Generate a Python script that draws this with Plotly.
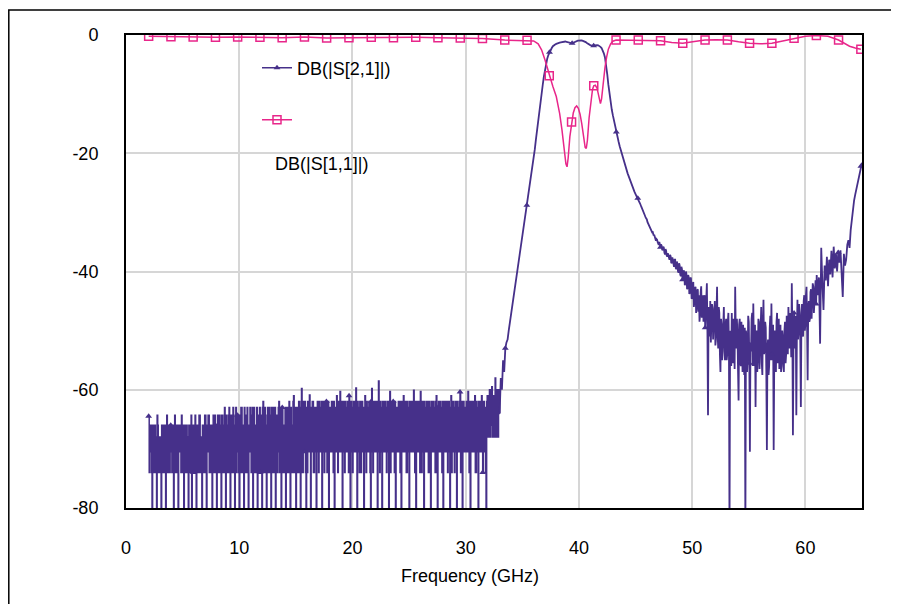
import numpy as np
import plotly.graph_objects as go

# ---------------- data ----------------
# S21 noise floor, 2.0 - 32.9 GHz at 0.1 GHz (-85 = below the axis) ...
s21_floor_db = [
    -64.5, -70.5, -66, -85, -66, -74, -68, -85, -66, -74,
    -68, -85, -66, -74, -66, -85, -64.3, -74, -66, -70.5,
    -66, -74, -85, -64.3, -74, -66, -85, -70.5, -66, -64.3,
    -74, -85, -66, -74, -68, -85, -66, -74, -85, -66,
    -74, -64.3, -85, -66, -74, -64.3, -68, -85, -66, -74,
    -64.3, -85, -70.5, -64.3, -74, -66, -85, -64.3, -74, -66,
    -85, -64.3, -74, -66, -85, -64.3, -74, -63, -85, -66,
    -74, -63, -85, -64.3, -74, -66, -85, -63, -70.5, -64.3,
    -85, -74, -63, -66, -85, -64.3, -74, -63, -85, -70.5,
    -64.3, -74, -85, -63, -66, -74, -85, -64.3, -63, -74,
    -85, -62, -74, -66, -85, -63, -74, -64.3, -85, -66,
    -63, -74, -85, -64.3, -70.5, -62, -74, -85, -63, -66,
    -74, -85, -63, -74, -62, -85, -66, -74, -61, -70.5,
    -85, -63, -74, -62, -85, -59.8, -74, -63, -62, -85,
    -74, -63, -60.9, -85, -70.5, -62, -74, -63, -85, -62,
    -74, -63, -70.5, -85, -62, -74, -63, -62, -74, -85,
    -63, -70.5, -62, -74, -85, -63, -61, -74, -63, -60.3,
    -70.5, -85, -62, -74, -63, -70.5, -62, -61, -85, -63,
    -74, -62, -70.5, -59.7, -85, -63, -74, -62, -70.5, -63,
    -85, -61, -74, -63, -70.5, -62, -85, -59.8, -74, -63,
    -62, -70.5, -85, -58.5, -74, -63, -85, -62, -70.5, -63,
    -74, -62, -85, -60.3, -70.5, -63, -62, -74, -85, -63,
    -70.5, -62, -74, -85, -63, -61, -70.5, -62, -74, -63,
    -85, -62, -70.5, -63, -60.1, -74, -85, -62, -70.5, -63,
    -60.3, -74, -62, -85, -63, -70.5, -62, -74, -63, -85,
    -62, -70.5, -63, -74, -61, -85, -62, -70.5, -63, -74,
    -85, -63, -62, -70.5, -74, -62, -85, -61, -70.5, -63,
    -74, -62, -85, -63, -70.5, -60.4, -74, -85, -62, -63,
    -70.5, -62, -60.3, -74, -85, -63, -62, -70.5, -61, -74,
    -63, -85, -62, -70.5, -61, -74, -62, -63, -85, -61,
    -68, -60, -66, -59.5, -68, -62, -58, -68, -60, -64,
]
# ... and the in-between samples at 2.05 - 32.95 GHz
s21_floor_mid_db = [
    -74, -66, -74, -66, -74, -66, -74, -64.3, -74, -68,
    -74, -66, -74, -66, -74, -66, -74, -66, -74, -66,
    -74, -66, -68, -74, -66, -74, -66, -66, -74, -74,
    -66, -68, -74, -66, -74, -66, -74, -64.3, -66, -74,
    -66, -74, -66, -74, -64.3, -74, -74, -66, -74, -64.3,
    -74, -66, -64.3, -74, -66, -74, -66, -74, -64.3, -74,
    -66, -74, -64.3, -74, -64.3, -74, -66, -74, -64.3, -74,
    -64.3, -74, -64.3, -74, -63, -74, -64.3, -74, -64.3, -74,
    -64.3, -63, -74, -74, -63, -74, -64.3, -74, -66, -63,
    -74, -63, -64.3, -74, -74, -63, -66, -74, -74, -64.3,
    -63, -74, -63, -74, -64.3, -74, -63, -74, -63, -74,
    -74, -63, -64.3, -74, -63, -74, -63, -64.3, -74, -74,
    -63, -64.3, -74, -63, -74, -63, -74, -62, -74, -63,
    -63, -74, -62, -74, -63, -74, -62, -70.5, -74, -63,
    -62, -70.5, -70.5, -63, -62, -74, -63, -70.5, -63, -70.5,
    -62, -70.5, -62, -63, -70.5, -62, -70.5, -74, -62, -63,
    -70.5, -62, -70.5, -62, -63, -70.5, -70.5, -62, -70.5, -70.5,
    -62, -63, -70.5, -62, -70.5, -62, -74, -70.5, -62, -70.5,
    -62, -70.5, -62, -70.5, -62, -70.5, -62, -74, -62, -70.5,
    -63, -70.5, -62, -70.5, -62, -74, -62, -70.5, -62, -70.5,
    -70.5, -62, -63, -70.5, -62, -70.5, -62, -70.5, -62, -70.5,
    -62, -70.5, -62, -74, -62, -70.5, -70.5, -62, -63, -70.5,
    -62, -70.5, -62, -62, -70.5, -70.5, -62, -74, -62, -70.5,
    -62, -70.5, -62, -70.5, -70.5, -62, -63, -70.5, -62, -74,
    -70.5, -62, -70.5, -62, -70.5, -62, -70.5, -62, -74, -62,
    -70.5, -62, -70.5, -62, -74, -63, -70.5, -62, -70.5, -62,
    -62, -70.5, -70.5, -62, -62, -70.5, -63, -74, -62, -70.5,
    -62, -70.5, -62, -70.5, -62, -74, -62, -63, -70.5, -70.5,
    -62, -70.5, -70.5, -62, -62, -70.5, -70.5, -62, -74, -62,
    -70.5, -62, -70.5, -62, -70.5, -62, -70.5, -74, -62, -68,
    -61, -68, -60, -68, -61, -68, -66, -60, -68, -60,
]

s21_passband_db = [  # 33.0 - 45.9 GHz, 0.1 GHz
    -64, -58, -60, -55, -57, -53, -52, -51.5, -50, -48.7,
    -47.5, -46, -44.5, -43.2, -41.5, -40.2, -39, -38, -37, -35.5,
    -34, -32.5, -31.4, -30, -28.8, -27.8, -26.5, -25.3, -24, -22.5,
    -21, -19.4, -17.7, -16, -14.5, -13, -11.5, -10, -8.5, -7.1,
    -5.9, -4.9, -4.0, -3.4, -2.9, -2.5, -2.2, -1.9, -1.7, -1.6,
    -1.5, -1.4, -1.35, -1.3, -1.25, -1.2, -1.15, -1.1, -1.1, -1.15,
    -1.2, -1.3, -1.4, -1.45, -1.4, -1.3, -1.2, -1.1, -1.0, -0.95,
    -0.95, -0.9, -0.9, -0.95, -1.0, -1.1, -1.2, -1.35, -1.5, -1.6,
    -1.7, -1.75, -1.8, -1.8, -1.75, -1.7, -1.7, -1.75, -1.85, -2.0,
    -2.2, -2.6, -3.1, -3.8, -5.0, -6.6, -8.4, -10.0, -11.4, -12.6,
    -13.6, -14.6, -15.5, -16.4, -17.2, -18.0, -18.8, -19.5, -20.3, -21.0,
    -21.6, -22.2, -22.8, -23.4, -23.9, -24.5, -25.0, -25.5, -26.1, -26.5,
    -26.9, -27.3, -27.6, -27.9, -28.5, -29.0, -29.6, -30.0, -30.4, -30.9,
]

s21_stopband_db = [  # 46.0 - 60.9 GHz, 0.1 GHz
    -31.2, -31.8, -32.1, -32.7, -33.0, -33.2, -33.9, -34.1, -34.8, -34.6,
    -35.2, -35.0, -35.9, -35.6, -36.4, -36.0, -37.1, -36.5, -37.5, -37.2,
    -38.0, -37.4, -38.6, -38.1, -39.2, -38.0, -39.6, -38.7, -40.2, -39.0,
    -40.8, -39.6, -41.5, -40.1, -42.0, -40.5, -42.8, -41.0, -43.6, -41.2,
    -44.5, -41.8, -45.2, -42.6, -46.0, -43.0, -44.0, -47.2, -42.5, -46.5,
    -48.5, -44.0, -46.8, -42.0, -64.3, -47.5, -45.0, -50.0, -46.2, -49.0,
    -45.0, -51.5, -42.6, -53.0, -47.0, -57.0, -49.0, -52.5, -46.0, -55.0,
    -48.0, -54.0, -47.0, -85, -51.0, -47.0, -55.5, -49.5, -42.6, -53.0,
    -50.5, -61.8, -48.0, -56.0, -52.0, -49.0, -57.5, -85, -51.0, -54.5,
    -48.5, -70.5, -53.5, -47.0, -45.4, -56.0, -62.9, -50.0, -54.5, -48.5,
    -52.0, -46.0, -57.5, -44.8, -53.0, -49.5, -70.2, -51.5, -56.0, -47.5,
    -45.4, -55.0, -70.2, -50.0, -57.0, -47.0, -53.5, -56.5, -49.0, -55.0,
    -51.0, -57.0, -48.5, -54.0, -50.0, -46.0, -53.0, -49.0, -42.0, -67.7,
    -47.0, -53.0, -64.3, -44.8, -50.0, -47.0, -62.9, -45.5, -51.0, -44.0,
    -49.0, -42.6, -58.4, -45.0, -48.0, -43.0, -46.0, -42.6, -44.5, -41.5,
]
s21_stopband_mid_db = [  # 46.05 - 60.95 GHz
    -31.6, -31.9, -32.5, -32.8, -33.3, -33.6, -33.8, -34.5, -34.5, -35.0,
    -35.5, -35.7, -35.4, -36.3, -35.8, -36.8, -36.2, -37.3, -36.9, -37.8,
    -37.2, -38.5, -37.6, -39.0, -38.0, -39.4, -38.3, -40.0, -38.6, -40.5,
    -39.2, -41.4, -39.8, -42.3, -40.0, -43.0, -40.6, -43.8, -41.0, -44.6,
    -42.0, -46.0, -42.8, -47.0, -43.2, -46.8, -48.5, -43.5, -47.8, -44.0,
    -45.0, -49.5, -44.0, -50.5, -46.0, -51.0, -52.0, -45.5, -51.5, -47.0,
    -52.5, -47.0, -50.5, -46.0, -54.0, -48.0, -55.0, -47.5, -53.5, -49.0,
    -55.0, -48.5, -53.0, -50.0, -56.0, -53.5, -48.0, -56.5, -50.0, -48.0,
    -56.5, -49.0, -55.0, -48.5, -57.0, -55.5, -49.5, -50.0, -57.0, -47.5,
    -55.5, -52.0, -48.0, -56.0, -52.5, -49.0, -51.0, -57.0, -48.0, -56.5,
    -48.0, -55.5, -49.0, -54.0, -48.5, -57.0, -53.0, -57.5, -49.5, -55.0,
    -54.0, -49.0, -55.0, -56.0, -48.5, -55.5, -48.0, -50.5, -57.0, -50.0,
    -56.0, -50.0, -55.5, -47.5, -54.0, -52.5, -47.0, -54.5, -50.0, -52.0,
    -52.5, -47.5, -50.0, -51.5, -45.5, -52.0, -48.0, -50.5, -45.0, -50.0,
    -44.0, -49.5, -46.0, -48.5, -43.5, -48.0, -42.0, -47.0, -42.0, -45.5,
]

s21_upper_db = [  # 61.0 - 65.0 GHz, 0.1 GHz
    -40.6, -44.0, -41.0, -52.2, -36.0, -42.0, -46.5, -39.0, -41.5, -37.5,
    -42.5, -38.0, -40.5, -36.5, -41.0, -35.8, -39.5, -37.0, -40.0, -36.8,
    -38.5, -36.4, -40.0, -44.3, -37.0, -39.0, -38.0, -35.5, -34.7, -36.0,
    -33.0, -31.0, -29.5, -28.0, -27.0, -26.0, -25.0, -24.0, -23.0, -22.2,
    -21.6,
]

# S11 (smooth trace)
s11_freq_ghz = [
    2.00, 3.97, 5.93, 7.90, 9.86, 11.83, 13.79, 15.76, 17.72, 19.69,
    21.66, 23.62, 25.59, 27.55, 29.52, 31.48, 33.45, 34.5, 35.42, 36.0,
    36.4, 36.7, 37.0, 37.2, 37.38, 37.7, 38.0, 38.3, 38.5, 38.7,
    38.85, 38.95, 39.05, 39.2, 39.35, 39.5, 39.65, 39.8, 39.95, 40.1,
    40.25, 40.4, 40.55, 40.65, 40.75, 40.9, 41.05, 41.2, 41.31, 41.45,
    41.6, 41.75, 41.9, 42.0, 42.15, 42.3, 42.45, 42.6, 42.8, 43.0,
    43.28, 44.2, 45.24, 46.2, 47.21, 48.2, 49.17, 50.2, 51.14, 52.1,
    53.11, 54.1, 55.07, 56.0, 57.04, 58.0, 59.00, 60.0, 60.97, 62.0,
    62.93, 63.4, 63.9, 64.4, 64.90,
]
s11_db = [
    -0.2, -0.3, -0.35, -0.4, -0.35, -0.4, -0.45, -0.35, -0.5, -0.45,
    -0.4, -0.45, -0.4, -0.45, -0.5, -0.6, -0.85, -0.9, -0.9, -1.0,
    -1.5, -2.5, -4.2, -5.5, -6.9, -8.7, -10.4, -13.3, -16.0, -19.6,
    -21.8, -22.3, -20.8, -17.2, -14.7, -13.2, -12.3, -12.0, -12.4, -13.4,
    -15.0, -17.2, -19.0, -19.2, -17.8, -14.0, -11.0, -9.2, -8.6, -8.5,
    -9.0, -10.3, -11.6, -10.8, -8.0, -5.5, -3.7, -2.4, -1.5, -1.05,
    -0.85, -0.85, -0.85, -0.9, -0.96, -1.25, -1.4, -1.1, -0.85, -0.8,
    -0.85, -1.15, -1.4, -1.5, -1.4, -1.0, -0.56, -0.2, -0.1, -0.2,
    -0.85, -1.4, -1.9, -2.2, -2.4,
]

# symbol markers are placed every ~1.9656 GHz starting at 2 GHz
marker_freq_ghz = [
    2.00, 3.97, 5.93, 7.90, 9.86, 11.83, 13.79, 15.76, 17.72, 19.69,
    21.66, 23.62, 25.59, 27.55, 29.52, 31.48, 33.45, 35.42, 37.38, 39.35,
    41.31, 43.28, 45.24, 47.21, 49.17, 51.14, 53.11, 55.07, 57.04, 59.00,
    60.97, 62.93, 64.90,
]

x_ticks = [0, 10, 20, 30, 40, 50, 60]
y_ticks = [0, -20, -40, -60, -80]
y_tick_text = ["0", "-20", "-40", "-60", "-80"]
name_s21 = "DB(|S[2,1]|)"
name_s11 = "DB(|S[1,1]|)"
x_title = "Frequency (GHz)"

# ---------------- styles ----------------
PURPLE = "#46308A"
PINK = "#E8268A"
FONT = "Liberation Sans, Arial, sans-serif"

# sweep frequency grids
f_floor = 2.0 + 0.05 * np.arange(2 * len(s21_floor_db))
v_floor = np.column_stack([s21_floor_db, s21_floor_mid_db]).ravel()
f_pass = 33.0 + 0.1 * np.arange(len(s21_passband_db))
f_stop = 46.0 + 0.05 * np.arange(2 * len(s21_stopband_db))
v_stop = np.column_stack([s21_stopband_db, s21_stopband_mid_db]).ravel()
f_up = 61.0 + 0.1 * np.arange(len(s21_upper_db))

f21 = np.concatenate([f_floor, f_pass, f_stop, f_up])
s21 = np.concatenate([v_floor, s21_passband_db, v_stop, s21_upper_db])
n_floor = len(f_floor)

mk = np.array(marker_freq_ghz)
idx21 = [int(np.argmin(np.abs(f21 - m))) for m in mk]
s11_f = np.array(s11_freq_ghz)
s11_v = np.array(s11_db)
idx11 = [int(np.argmin(np.abs(s11_f - m))) for m in mk]

fig = go.Figure()
# noise-floor part of S21 (dense, stepped rendering)
fig.add_trace(go.Scatter(x=f21[:n_floor + 1], y=s21[:n_floor + 1], mode="lines",
                         line=dict(color=PURPLE, width=1.5, shape="hv"),
                         showlegend=False))
# rest of S21
fig.add_trace(go.Scatter(x=f21[n_floor:], y=s21[n_floor:], mode="lines",
                         line=dict(color=PURPLE, width=1.8), showlegend=False))
fig.add_trace(go.Scatter(x=f21[idx21], y=s21[idx21], mode="markers",
                         marker=dict(symbol="triangle-up", size=6, color=PURPLE),
                         showlegend=False))
fig.add_trace(go.Scatter(x=s11_f, y=s11_v, mode="lines",
                         line=dict(color=PINK, width=1.5), showlegend=False))
fig.add_trace(go.Scatter(x=s11_f[idx11], y=s11_v[idx11], mode="markers",
                         marker=dict(symbol="square-open", size=8, color=PINK,
                                     line=dict(width=1.5, color=PINK)),
                         showlegend=False))
# legend-only entries
fig.add_trace(go.Scatter(x=[None], y=[None], mode="lines+markers", name=name_s21,
                         line=dict(color=PURPLE, width=1.6),
                         marker=dict(symbol="triangle-up", size=6, color=PURPLE),
                         legend="legend"))
fig.add_trace(go.Scatter(x=[None], y=[None], mode="lines+markers", name=" ",
                         line=dict(color=PINK, width=1.5),
                         marker=dict(symbol="square-open", size=8, color=PINK,
                                     line=dict(width=1.5, color=PINK)),
                         legend="legend2"))

# page has an 8px body margin: figure coordinates = page coordinates - 8
OFF = 8
W, H = 899 - OFF, 604 - OFF
L, T = 126 - OFF, 35 - OFF
R = W - (862 - OFF)
B = H - (508 - OFF)
pw, ph = W - L - R, H - T - B


def px(xp):  # page pixel -> paper x
    return (xp - OFF - L) / pw


def py(yp):  # page pixel -> paper y
    return (H - B - (yp - OFF)) / ph


axis_common = dict(showline=True, linecolor="black", linewidth=2, mirror=True,
                   showgrid=True, gridcolor="#D6D6D6", gridwidth=1.5,
                   zeroline=False, ticks="",
                   tickfont=dict(family=FONT, size=18, color="black"))

fig.update_layout(
    width=W, height=H,
    margin=dict(l=L, r=R, t=T, b=B),
    paper_bgcolor="white", plot_bgcolor="white",
    font=dict(family=FONT, size=18, color="black"),
    xaxis=dict(range=[0, 65], tickvals=x_ticks, ticklabelstandoff=22, **axis_common),
    yaxis=dict(range=[-80, 0], tickvals=y_ticks, ticktext=y_tick_text,
               ticklabelstandoff=22, **axis_common),
    legend=dict(x=px(257), y=py(68), xanchor="left", yanchor="middle",
                bgcolor="rgba(0,0,0,0)", font=dict(family=FONT, size=18)),
    legend2=dict(x=px(257), y=py(120), xanchor="left", yanchor="middle",
                 bgcolor="rgba(0,0,0,0)", font=dict(family=FONT, size=18)),
    annotations=[
        dict(text=name_s11, xref="paper", yref="paper", x=px(273), y=py(164),
             xanchor="left", yanchor="middle", showarrow=False,
             font=dict(family=FONT, size=18, color="black")),
        dict(text=x_title, xref="paper", yref="paper", x=px(469.5), y=py(576),
             xanchor="center", yanchor="middle", showarrow=False,
             font=dict(family=FONT, size=18, color="black")),
    ],
    shapes=[
        dict(type="rect", xref="paper", yref="paper",
             x0=px(OFF + 0.8), x1=px(920), y0=py(630), y1=py(10),
             line=dict(color="black", width=1.5), layer="below"),
    ],
)

fig.write_html("out.html")
